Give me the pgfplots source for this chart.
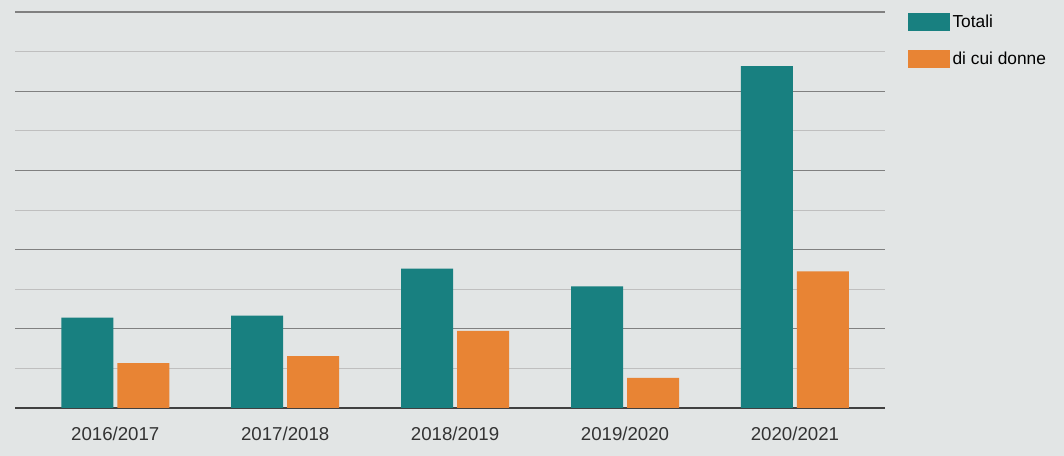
\documentclass[border=0pt]{standalone}
\usepackage{fontspec}
\setmainfont{Liberation Sans}
\usepackage{pgfplots}
\pgfplotsset{compat=1.18}

\definecolor{totcol}{RGB}{24,128,128}
\definecolor{doncol}{RGB}{232,132,52}
\definecolor{bgcol}{RGB}{226,229,229}

\begin{document}
\begin{tikzpicture}
% background / page size (1064x456 px at 0.75pt per px)
\fill[bgcol] (-11.25pt,-36pt) rectangle (786.75pt,306pt);
\begin{axis}[
    at={(0,0)}, anchor=south west,
    scale only axis,
    width=652.5pt, height=297pt,
    ybar=3pt, bar width=39pt,
    xmin=-0.59, xmax=4.53,
    ymin=0, ymax=10,
    axis y line*=left,
    axis x line*=bottom,
    y axis line style={draw=none},
    x axis line style={black!75, line width=1pt, -},
    xtick={0,1,2,3,4},
    xticklabels={2016/2017,2017/2018,2018/2019,2019/2020,2020/2021},
    x tick label style={font=\fontsize{14}{16}\selectfont, text=black!80, yshift=-11pt},
    major tick length=0pt, minor tick length=0pt,
    ytick={0,2,...,10},
    minor ytick={1,3,...,9},
    yticklabels={},
    ymajorgrids, yminorgrids,
    major grid style={black!50, line width=0.8pt},
    minor grid style={black!25, line width=0.6pt},
    legend style={at={(1.026,1.0)}, anchor=north west, draw=none, fill=none,
        font=\fontsize{13}{15}\selectfont, row sep=13pt, inner sep=0pt},
    legend cell align=left,
    legend image code/.code={\fill[#1] (0pt,-6.75pt) rectangle (31.5pt,6.75pt);},
]
\addplot[fill=totcol, draw=none] coordinates {(0,2.28) (1,2.33) (2,3.52) (3,3.07) (4,8.63)};
\addplot[fill=doncol, draw=none] coordinates {(0,1.13) (1,1.31) (2,1.95) (3,0.76) (4,3.45)};
\legend{Totali, di cui donne}
\end{axis}
\end{tikzpicture}
\end{document}
